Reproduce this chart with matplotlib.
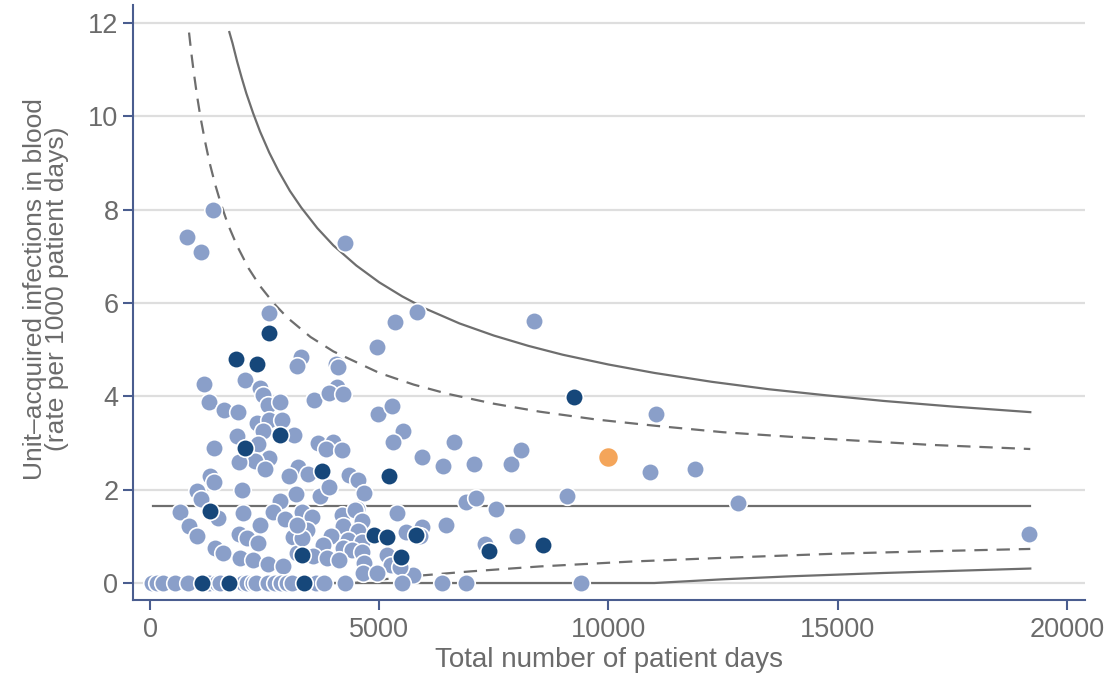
import numpy as np
import matplotlib.pyplot as plt

plt.rcParams['font.family'] = ['Liberation Sans', 'DejaVu Sans']

# units: patient days, rate per 1000 patient days
light_x = [1374, 807, 1112, 4253, 2595, 5823, 5343, 8375, 4951, 3293, 3206, 4057, 4100,
           1178, 2072, 2399, 2465, 2574, 2835, 1287, 1614, 1919, 3577, 4079, 3904, 4209,
           4973, 5278, 5518, 5300, 6630, 5932, 6390, 7066, 7873, 8091, 11036, 10905, 11886,
           12824, 19170, 9094, 9400,
           2333, 2595, 2879, 2464, 3141, 1897, 2355, 1396, 2595, 2290, 1941, 2508, 3228,
           3664, 3991, 3839, 4188, 3446, 3032, 4340, 4537, 1309, 1396, 1025, 2007, 1112,
           3184, 2835, 3708, 3904, 4667, 4515, 5387, 6892, 7110, 7546, 654, 1483, 2028,
           2683, 2944, 3315, 3533, 4188, 4471, 4624, 2399, 851, 1025, 1941, 2116, 2355,
           3119, 3424, 4209, 4537, 3948, 4318, 4624, 3773, 4209, 4406, 4624, 3555, 3860,
           4122, 1418, 1592, 1963, 2246, 2574, 2901, 3206, 5169, 5256, 4667, 4646, 4951,
           5736, 5453, 5583, 5932, 6456, 5889, 7306, 8004, 3315, 3206,
           44, 153, 284, 545, 829, 1287, 1461, 1527, 2028, 2116, 2246, 2312, 2574, 2726,
           2857, 2988, 3097, 3620, 3795, 4253, 5496, 6369, 6892]
light_y = [7.99, 7.41, 7.09, 7.29, 5.79, 5.81, 5.59, 5.61, 5.06, 4.84, 4.65, 4.69, 4.63,
           4.26, 4.35, 4.18, 4.03, 3.81, 3.88, 3.88, 3.71, 3.66, 3.92, 4.20, 4.07, 4.05,
           3.62, 3.79, 3.26, 3.02, 3.02, 2.70, 2.51, 2.55, 2.55, 2.85, 3.62, 2.38, 2.44,
           1.71, 1.05, 1.86, 0.0,
           3.43, 3.49, 3.49, 3.26, 3.17, 3.15, 2.98, 2.89, 2.68, 2.61, 2.59, 2.44, 2.49,
           3.00, 3.02, 2.87, 2.85, 2.34, 2.29, 2.31, 2.21, 2.29, 2.16, 1.97, 1.99, 1.80,
           1.91, 1.76, 1.86, 2.06, 1.93, 1.59, 1.50, 1.74, 1.82, 1.59, 1.52, 1.39, 1.50,
           1.52, 1.37, 1.52, 1.41, 1.46, 1.56, 1.33, 1.24, 1.22, 1.01, 1.05, 0.96, 0.86,
           0.99, 1.14, 1.22, 1.11, 1.01, 0.92, 0.88, 0.81, 0.75, 0.71, 0.66, 0.58, 0.54,
           0.49, 0.75, 0.64, 0.54, 0.49, 0.41, 0.36, 0.64, 0.60, 0.39, 0.43, 0.21, 0.21,
           0.17, 0.34, 1.09, 1.20, 1.24, 1.01, 0.84, 1.01, 0.96, 1.24,
           0, 0, 0, 0, 0, 0, 0, 0, 0, 0, 0, 0, 0, 0,
           0, 0, 0, 0, 0, 0, 0, 0, 0]

dark_x = [2595, 1876, 2333, 2835, 2072, 3751, 5213, 9247, 1309, 4885, 5169, 5801, 7393,
          8571, 3315, 5474, 1134, 1723, 3359]
dark_y = [5.36, 4.80, 4.69, 3.17, 2.89, 2.40, 2.29, 3.99, 1.54, 1.03, 0.99, 1.03, 0.69,
          0.81, 0.60, 0.56, 0, 0, 0]

own_x = [9989]
own_y = [2.70]

# funnel limits
mean_x = [70, 19200]
mean_y = [1.65, 1.65]
up_solid_x = [1730, 1800, 1900, 2000, 2100, 2250, 2400, 2600, 2800, 3050, 3300, 3650, 4000,
              4500, 5000, 5500, 6000, 6750, 7500, 8250, 9000, 10000, 11000, 12250, 13500,
              14750, 16000, 17500, 19200]
up_solid_y = [11.8, 11.56, 11.17, 10.82, 10.49, 10.06, 9.67, 9.22, 8.83, 8.40, 8.04, 7.60,
              7.23, 6.80, 6.44, 6.14, 5.88, 5.56, 5.30, 5.08, 4.89, 4.68, 4.50, 4.31, 4.15,
              4.02, 3.90, 3.78, 3.66]
up_dash_x = [851, 900, 950, 1025, 1100, 1200, 1300, 1420, 1550, 1700, 1900, 2150, 2400,
             2700, 3000, 3500, 4000, 5000, 5750, 6500, 7500, 8500, 9750, 11000, 12500,
             14000, 17000, 19200]
up_dash_y = [11.79, 11.36, 10.97, 10.44, 9.98, 9.46, 9.00, 8.54, 8.11, 7.68, 7.22, 6.74,
             6.36, 5.99, 5.68, 5.27, 4.96, 4.50, 4.25, 4.05, 3.84, 3.67, 3.50, 3.37, 3.23,
             3.13, 2.96, 2.87]
lo_dash_x = [70, 4450, 5000, 5900, 7000, 8500, 10500, 12500, 15000, 17000, 19200]
lo_dash_y = [0, 0, 0.07, 0.16, 0.25, 0.355, 0.46, 0.54, 0.63, 0.68, 0.73]
lo_solid_x = [70, 11000, 12500, 14000, 16000, 17500, 19200]
lo_solid_y = [0, 0, 0.08, 0.145, 0.215, 0.26, 0.31]

axis_col = '#4a5d8f'
text_col = '#6b6b6b'
line_col = '#6e6e6e'

fig = plt.figure(figsize=(11.06, 6.76), dpi=100)
ax = fig.add_axes([0.1203, 0.1124, 0.8607, 0.8802])

for g in range(0, 13, 2):
    ax.axhline(g, color='#dedede', lw=1.6, zorder=0)

ax.plot(mean_x, mean_y, color=line_col, lw=1.6, zorder=1)
ax.plot(up_solid_x, up_solid_y, color=line_col, lw=1.6, zorder=1)
ax.plot(lo_solid_x, lo_solid_y, color=line_col, lw=1.6, zorder=1)
ax.plot(up_dash_x, up_dash_y, color=line_col, lw=1.6, ls=(0, (6, 4)), zorder=1)
ax.plot(lo_dash_x, lo_dash_y, color=line_col, lw=1.6, ls=(0, (6, 4)), zorder=1)

kw = dict(edgecolors='white', linewidths=1.2, zorder=3)
ax.scatter(light_x, light_y, s=160, color='#8a9fc9', **kw)
ax.scatter(dark_x, dark_y, s=160, color='#16477a', **kw)
ax.scatter(own_x, own_y, s=210, color='#f4a55a', **kw)

ax.set_xlim(-370, 20393)
ax.set_ylim(-0.364, 12.38)
ax.set_xticks([0, 5000, 10000, 15000, 20000])
ax.set_yticks([0, 2, 4, 6, 8, 10, 12])

for s in ['top', 'right']:
    ax.spines[s].set_visible(False)
for s in ['left', 'bottom']:
    ax.spines[s].set_color(axis_col)
    ax.spines[s].set_linewidth(1.5)
ax.tick_params(colors=axis_col, width=1.5, length=7, labelsize=19.5, labelcolor=text_col)
ax.tick_params(axis='x', pad=5)

ax.set_xlabel('Total number of patient days', fontsize=20, color=text_col, labelpad=3)
ax.set_ylabel('Unit\u2013acquired infections in blood\n(rate per 1000 patient days)',
              fontsize=19, color=text_col, labelpad=14, linespacing=0.9)
ax.yaxis.label.set_y(0.523)

fig.savefig('out.png', dpi=100)
